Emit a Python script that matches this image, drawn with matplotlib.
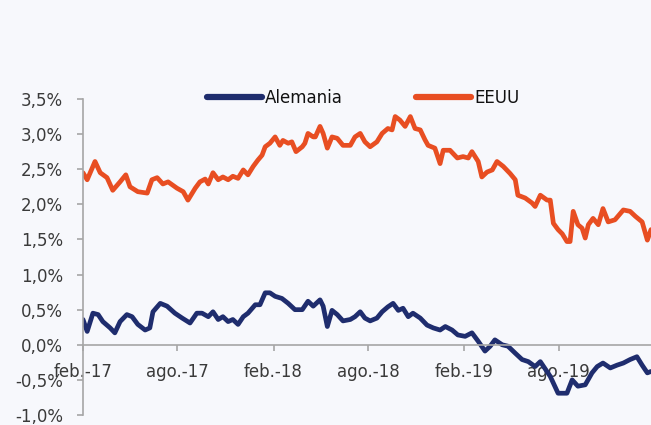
import matplotlib
matplotlib.use("Agg")
import matplotlib.pyplot as plt
import pandas as pd
from matplotlib.ticker import FuncFormatter

# ---- data (10y yields, %) ----
us_dates = ["2017-02-01","2017-02-09","2017-02-24","2017-03-06","2017-03-19","2017-03-30","2017-04-13",
            "2017-04-24","2017-05-02","2017-05-17","2017-06-04","2017-06-13","2017-06-23","2017-07-04",
            "2017-07-14","2017-07-31","2017-08-12","2017-08-21","2017-09-04","2017-09-13","2017-09-23",
            "2017-09-29","2017-10-08","2017-10-18","2017-10-27","2017-11-06","2017-11-15","2017-11-25",
            "2017-12-05","2017-12-14","2017-12-24","2018-01-02","2018-01-10","2018-01-16","2018-01-25",
            "2018-02-04","2018-02-13","2018-02-19","2018-03-01","2018-03-08","2018-03-16","2018-03-28",
            "2018-04-02","2018-04-08","2018-04-18","2018-04-22","2018-05-01","2018-05-07","2018-05-15",
            "2018-05-24","2018-06-03","2018-06-14","2018-06-28","2018-07-07","2018-07-17","2018-07-26",
            "2018-08-05","2018-08-18","2018-08-28","2018-09-08","2018-09-16","2018-09-22","2018-10-01",
            "2018-10-11","2018-10-21","2018-10-30","2018-11-09","2018-11-18","2018-11-24","2018-12-07",
            "2018-12-17","2018-12-23","2019-01-05","2019-01-19","2019-01-30","2019-02-09","2019-02-16",
            "2019-02-28","2019-03-07","2019-03-17","2019-03-27","2019-04-05","2019-04-17","2019-04-30",
            "2019-05-10","2019-05-15","2019-05-29","2019-06-11","2019-06-17","2019-06-27","2019-07-10",
            "2019-07-16","2019-07-22","2019-07-31","2019-08-08","2019-08-17","2019-08-23","2019-08-29",
            "2019-09-07","2019-09-15","2019-09-21","2019-09-27","2019-10-06","2019-10-16","2019-10-25",
            "2019-11-04","2019-11-17","2019-12-03","2019-12-16","2019-12-26","2020-01-08","2020-01-18",
            "2020-01-25"]
us_values = [2.45, 2.35, 2.61, 2.45, 2.38, 2.20, 2.32,
             2.42, 2.25, 2.18, 2.16, 2.35, 2.38, 2.29,
             2.32, 2.23, 2.18, 2.06, 2.23, 2.32, 2.36,
             2.29, 2.45, 2.35, 2.39, 2.35, 2.40, 2.37,
             2.49, 2.42, 2.54, 2.63, 2.70, 2.82, 2.87,
             2.96, 2.84, 2.91, 2.87, 2.89, 2.75, 2.82,
             2.87, 3.01, 2.96, 2.96, 3.11, 3.01, 2.80,
             2.96, 2.94, 2.84, 2.84, 2.96, 3.01, 2.89,
             2.82, 2.89, 3.01, 3.08, 3.06, 3.25, 3.20,
             3.11, 3.25, 3.08, 3.06, 2.92, 2.84, 2.80,
             2.58, 2.77, 2.77, 2.66, 2.68, 2.66, 2.75,
             2.61, 2.39, 2.46, 2.49, 2.61, 2.54, 2.44,
             2.35, 2.13, 2.09, 2.02, 1.97, 2.13, 2.06,
             2.06, 1.73, 1.64, 1.58, 1.47, 1.47, 1.90,
             1.71, 1.66, 1.52, 1.71, 1.80, 1.71, 1.94,
             1.75, 1.78, 1.92, 1.90, 1.83, 1.75, 1.49,
             1.64]

de_dates = ["2017-02-01","2017-02-09","2017-02-20","2017-03-02","2017-03-11","2017-03-25","2017-04-03",
            "2017-04-13","2017-04-26","2017-05-06","2017-05-17","2017-05-31","2017-06-09","2017-06-15",
            "2017-06-29","2017-07-12","2017-07-27","2017-08-10","2017-08-25","2017-09-07","2017-09-17",
            "2017-09-29","2017-10-08","2017-10-18","2017-10-27","2017-11-06","2017-11-15","2017-11-25",
            "2017-12-05","2017-12-14","2017-12-28","2018-01-06","2018-01-16","2018-01-25","2018-02-04",
            "2018-02-17","2018-03-01","2018-03-14","2018-03-28","2018-04-08","2018-04-18","2018-05-01",
            "2018-05-07","2018-05-15","2018-05-24","2018-06-03","2018-06-14","2018-06-28","2018-07-07",
            "2018-07-17","2018-07-26","2018-08-05","2018-08-18","2018-08-28","2018-09-08","2018-09-18",
            "2018-09-28","2018-10-07","2018-10-17","2018-10-26","2018-11-09","2018-11-22","2018-12-04",
            "2018-12-17","2018-12-27","2019-01-09","2019-01-20","2019-02-03","2019-02-16","2019-02-28",
            "2019-03-13","2019-03-23","2019-04-01","2019-04-15","2019-04-26","2019-05-10","2019-05-23",
            "2019-06-04","2019-06-17","2019-06-27","2019-07-16","2019-07-31","2019-08-17","2019-08-27",
            "2019-09-07","2019-09-21","2019-10-04","2019-10-14","2019-10-25","2019-11-08","2019-11-21",
            "2019-12-03","2019-12-16","2019-12-29","2020-01-08","2020-01-18","2020-01-25"]
de_values = [0.36, 0.19, 0.45, 0.43, 0.33, 0.24, 0.17,
             0.33, 0.43, 0.40, 0.29, 0.21, 0.24, 0.47,
             0.59, 0.55, 0.45, 0.38, 0.31, 0.45, 0.45,
             0.40, 0.47, 0.36, 0.40, 0.33, 0.36, 0.29,
             0.40, 0.45, 0.57, 0.57, 0.74, 0.74, 0.69,
             0.66, 0.59, 0.50, 0.50, 0.62, 0.55, 0.64,
             0.55, 0.26, 0.49, 0.43, 0.34, 0.36, 0.40,
             0.47, 0.38, 0.34, 0.38, 0.47, 0.54, 0.59,
             0.49, 0.52, 0.40, 0.45, 0.38, 0.28, 0.24,
             0.21, 0.26, 0.21, 0.14, 0.12, 0.17, 0.05,
             -0.09, -0.02, 0.07, 0.00, -0.02, -0.12, -0.21,
             -0.24, -0.31, -0.24, -0.45, -0.69, -0.69, -0.50,
             -0.59, -0.57, -0.40, -0.31, -0.26, -0.33, -0.29,
             -0.26, -0.21, -0.17, -0.29, -0.40, -0.38]

series_names = ["Alemania", "EEUU"]
tick_dates = ["2017-02-01", "2017-08-01", "2018-02-01", "2018-08-01", "2019-02-01", "2019-08-01"]
tick_labels = ["feb.-17", "ago.-17", "feb.-18", "ago.-18", "feb.-19", "ago.-19"]
y_ticks = [-1.0, -0.5, 0.0, 0.5, 1.0, 1.5, 2.0, 2.5, 3.0, 3.5]

# ---- styling ----
BG = "#F7F8FC"
NAVY = "#1F2D6E"
ORANGE = "#E84E22"
GRID = "#A6A6A6"
TXT = "#3A3A3A"

plt.rcParams["font.family"] = ["DejaVu Sans"]

fig = plt.figure(figsize=(6.51, 4.25), dpi=100, facecolor=BG)
ax = fig.add_axes([83/651, 10/425, 1 - 83/651, 316/425])
ax.set_facecolor(BG)

ax.plot(pd.to_datetime(de_dates), de_values, color=NAVY, lw=3.4, label=series_names[0],
        solid_joinstyle="round", solid_capstyle="round")
ax.plot(pd.to_datetime(us_dates), us_values, color=ORANGE, lw=3.4, label=series_names[1],
        solid_joinstyle="round", solid_capstyle="round")

ax.set_xlim(pd.Timestamp("2017-02-01"), pd.Timestamp("2020-01-25"))
ax.set_ylim(-1.0, 3.5)
ax.set_yticks(y_ticks)
ax.yaxis.set_major_formatter(FuncFormatter(lambda v, p: f"{v:.1f}%".replace(".", ",")))
ax.set_xticks(pd.to_datetime(tick_dates))
ax.set_xticklabels(tick_labels)

for s in ["top", "right"]:
    ax.spines[s].set_visible(False)
ax.spines["bottom"].set_position(("data", 0))
ax.spines["bottom"].set_color(GRID)
ax.spines["left"].set_color(GRID)
ax.spines["bottom"].set_linewidth(1.2)
ax.spines["left"].set_linewidth(1.2)

ax.tick_params(axis="y", direction="out", length=4.3, width=1.2, color=GRID,
               labelsize=12, labelcolor=TXT, pad=10)
ax.tick_params(axis="x", direction="out", length=4.3, width=1.2, color=GRID,
               labelsize=12, labelcolor=TXT, pad=8.5)

leg = ax.legend(loc="center", bbox_to_anchor=(0.558, 1 - 98/425), bbox_transform=fig.transFigure,
                ncol=2, frameon=False, fontsize=12, handlelength=3.3, handletextpad=0.2,
                columnspacing=4.4, borderpad=0)
for line in leg.get_lines():
    line.set_linewidth(4.5)
for t in leg.get_texts():
    t.set_color("#111111")

fig.savefig("out.png", dpi=100, facecolor=BG)
